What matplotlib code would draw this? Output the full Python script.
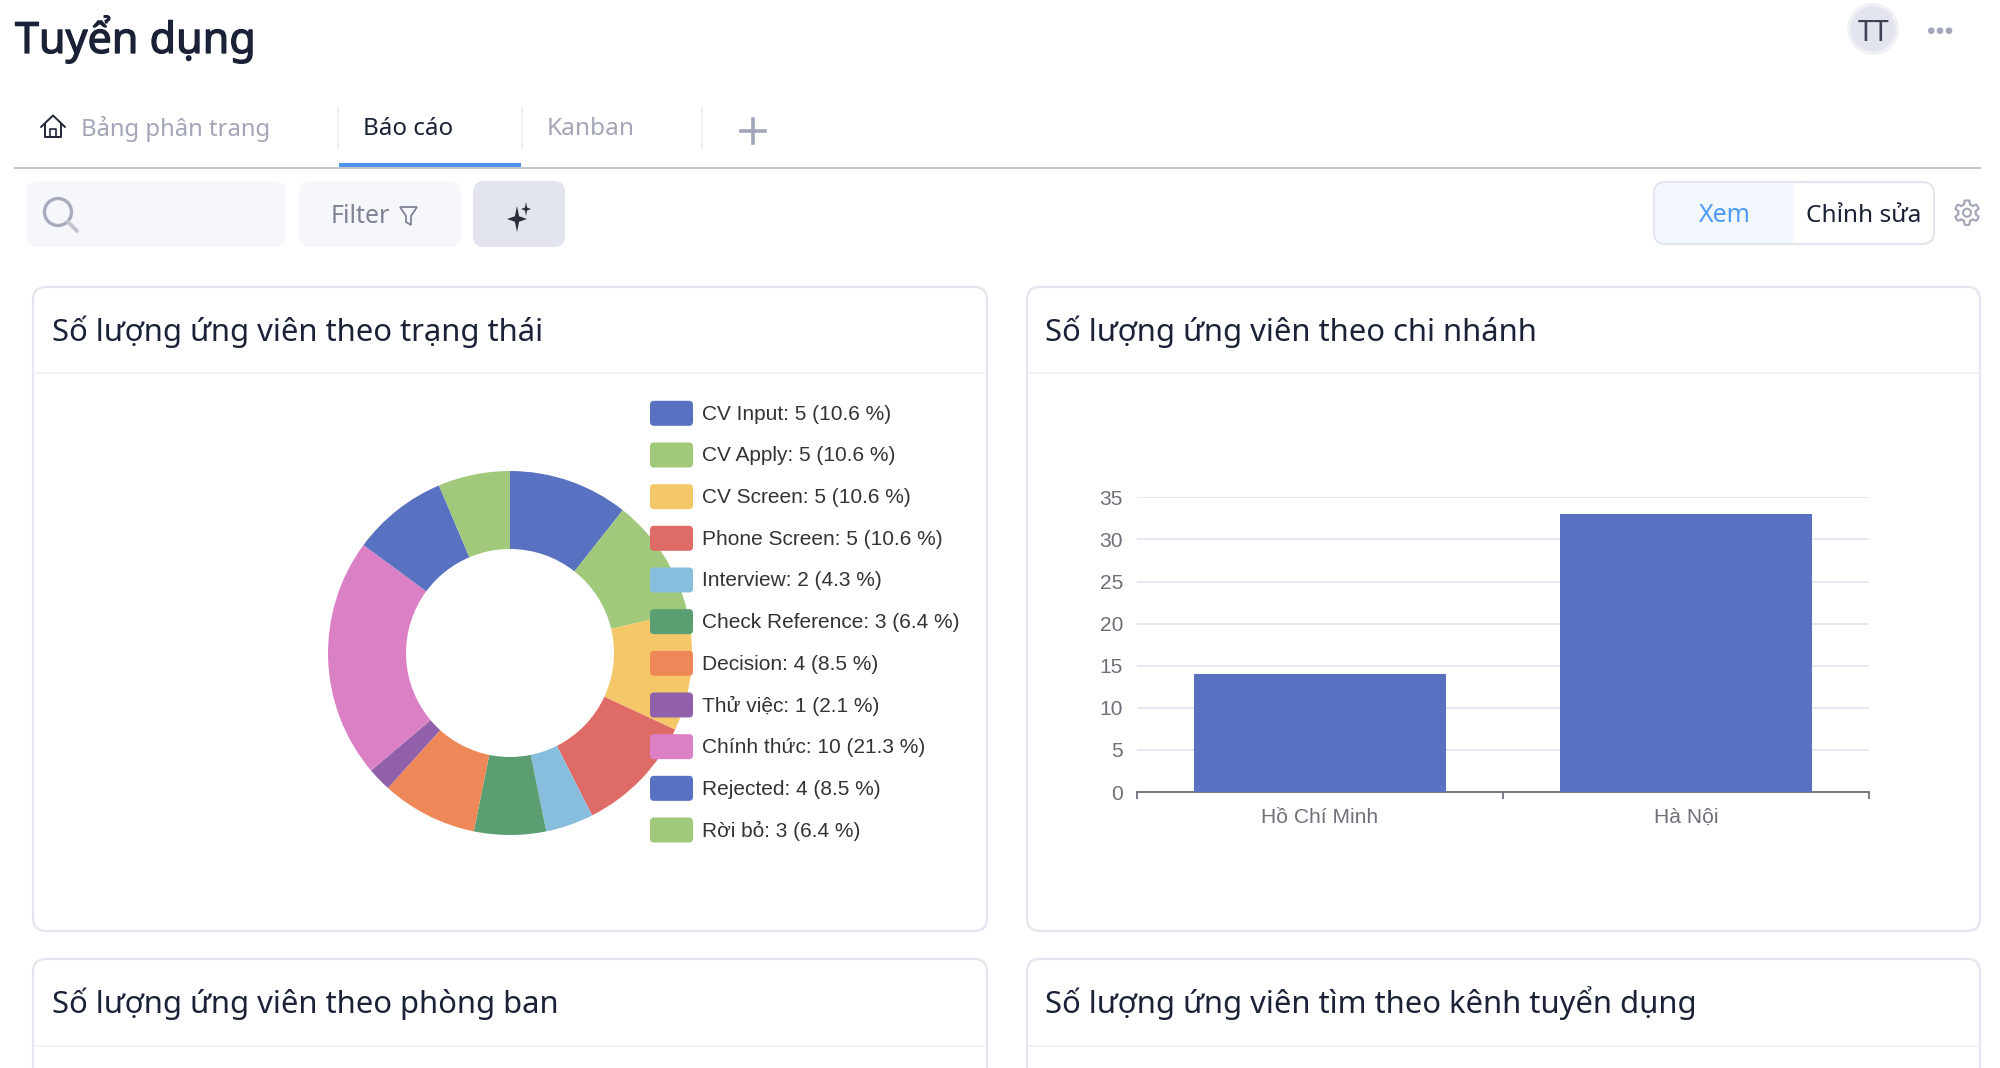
# -*- coding: utf-8 -*-
import numpy as np
import matplotlib
matplotlib.use("Agg")
import matplotlib.pyplot as plt
import matplotlib.patheffects as pe
from matplotlib.patches import Circle, FancyBboxPatch, Polygon, Rectangle

W, H = 2000, 1068

plt.rcParams["font.family"] = ["Noto Sans", "DejaVu Sans"]

# du lieu bieu do
status_names = ["CV Input", "CV Apply", "CV Screen", "Phone Screen", "Interview",
                "Check Reference", "Decision", "Thử việc", "Chính thức",
                "Rejected", "Rời bỏ"]
status_counts = [5, 5, 5, 5, 2, 3, 4, 1, 10, 4, 3]
status_colors = ["#5871c0", "#a0c97c", "#f4c868", "#de6b66", "#87bedd", "#5a9e72",
                 "#ef8859", "#9060ab", "#dc80c6", "#5871c0", "#a0c97c"]

branches = ["Hồ Chí Minh", "Hà Nội"]
branch_counts = [14, 33]
branch_ticks = [0, 5, 10, 15, 20, 25, 30, 35]

card_titles = ["Số lượng ứng viên theo trạng thái", "Số lượng ứng viên theo chi nhánh",
               "Số lượng ứng viên theo phòng ban", "Số lượng ứng viên tìm theo kênh tuyển dụng"]

DARK = "#1b2238"
GREY = "#a3a6b8"
BORDER = "#e3e6ee"
BLUE = "#4d94f0"
CHART_FONT = ["Liberation Sans", "DejaVu Sans"]


def px_axes(fig, x0, y0, x1, y1, **kw):
    """axes dat theo toa do pixel (goc tren ben trai)."""
    return fig.add_axes([x0 / W, 1 - y1 / H, (x1 - x0) / W, (y1 - y0) / H], **kw)


def round_box(ax, x0, y0, x1, y1, r, fc, ec="none", lw=0, z=1):
    ax.add_patch(FancyBboxPatch((x0 + r, y0 + r), x1 - x0 - 2 * r, y1 - y0 - 2 * r,
                                boxstyle=f"round,pad={r},rounding_size={r}",
                                fc=fc, ec=ec, lw=lw, zorder=z))


def star(ax, cx, cy, rx, ry, color):
    pts = []
    for i in range(8):
        a = i * np.pi / 4
        k = 1 if i % 2 == 0 else 0.3
        pts.append((cx + rx * k * np.sin(a), cy - ry * k * np.cos(a)))
    ax.add_patch(Polygon(pts, closed=True, fc=color, ec="none", zorder=3))


fig = plt.figure(figsize=(W / 100, H / 100), dpi=100, facecolor="white")

# nen giao dien
ui = px_axes(fig, 0, 0, W, H, zorder=0)
ui.set_xlim(0, W)
ui.set_ylim(H, 0)
ui.axis("off")

# Noto Sans chi co net thuong, lam dam bang vien chu
heading = ui.text(15, 53, "Tuyển dụng", fontsize=31, color=DARK, va="baseline")
heading.set_path_effects([pe.withStroke(linewidth=0.9, foreground=DARK)])

# avatar va menu
ui.add_patch(Circle((1873, 29), 26, fc="#f0f1f5", ec="none"))
ui.add_patch(Circle((1873, 29), 22.5, fc="#e2e5ed", ec="none", zorder=2))
ui.text(1873.5, 33.5, "TT", fontsize=20.5, color="#3e4253", ha="center", va="center", zorder=3)
for dx in [1931.3, 1940, 1949]:
    ui.add_patch(Circle((dx, 30.7), 3.3, fc=GREY, ec="none"))

# tab
ui.plot([41, 53, 65], [127, 115.5, 127], color="#1f2638", lw=1.4, solid_capstyle="round")
ui.plot([45, 45, 61, 61], [124, 137, 137, 124], color="#1f2638", lw=1.4)
ui.plot([50, 50, 56, 56], [137, 129, 129, 137], color="#1f2638", lw=1.2)
ui.text(81, 129, "Bảng phân trang", fontsize=17.2, color=GREY, va="center")
ui.text(363, 129, "Báo cáo", fontsize=17.4, color=DARK, va="center")
ui.text(547, 129, "Kanban", fontsize=17.6, color=GREY, va="center")
for sx in [338, 522, 702]:
    ui.plot([sx, sx], [108, 148], color="#eceef3", lw=1.2)
ui.plot([741, 765], [130.5, 130.5], color=GREY, lw=2.6)
ui.plot([753, 753], [118.5, 142.5], color=GREY, lw=2.6)
ui.add_patch(Rectangle((14, 167), 1967, 2, fc="#c4c6d0", ec="none"))
ui.add_patch(Rectangle((339, 163), 182, 4, fc=BLUE, ec="none", zorder=2))

# thanh cong cu
round_box(ui, 26, 181, 286, 247, 11, "#f6f7fa")
ui.add_patch(Circle((58, 212), 13.5, fc="none", ec="#a8abbd", lw=2.4, zorder=2))
ui.plot([68, 77], [222, 231], color="#c3c5d2", lw=2.8, solid_capstyle="round", zorder=2)
round_box(ui, 299, 181, 461, 247, 11, "#f6f7fa")
ui.text(331, 216.5, "Filter", fontsize=18, color="#7f8396", va="center", zorder=3)
ui.add_patch(Polygon([(400, 207), (417, 207), (411, 216), (411, 225), (406, 222), (406, 216)],
                     closed=True, fc="none", ec="#7f8396", lw=1.3, zorder=3))
round_box(ui, 473, 181, 565, 247, 11, "#e2e5ed")
star(ui, 517, 219, 10, 13, "#2b2e3a")
star(ui, 526, 209, 5, 7, "#2b2e3a")

# nut Xem / Chinh sua
round_box(ui, 1654, 182, 1934, 244, 12, "white", BORDER, 1.6, z=1)
round_box(ui, 1655, 183, 1800, 243, 11, "#f2f8fe", z=2)
ui.add_patch(Rectangle((1785, 183), 9, 60, fc="#f2f8fe", ec="none", zorder=2))
ui.add_patch(Rectangle((1794, 183), 10, 60, fc="white", ec="none", zorder=2))
ui.text(1725, 216, "Xem", fontsize=18, color="#4d9bf7", ha="center", va="center", zorder=3)
ui.text(1863.5, 216, "Chỉnh sửa", fontsize=17.6, color=DARK, ha="center", va="center", zorder=3)

# banh rang
a = np.linspace(0, 2 * np.pi, 97)
gear_r = 10.5 + 1.8 * np.clip(np.cos(6 * a) * 3, -1, 1)
ui.plot(1967 + gear_r * np.sin(a), 212.7 + gear_r * np.cos(a), color=GREY, lw=1.5)
ui.add_patch(Circle((1967, 212.7), 4, fc="none", ec=GREY, lw=1.5))

# cac the
for (x0, x1, y0, y1, line_y, title_y), title in zip(
        [(33, 987, 287, 931, 373, 331.5), (1027, 1980, 287, 931, 373, 331.5),
         (33, 987, 959, 1120, 1046, 1003.5), (1027, 1980, 959, 1120, 1046, 1003.5)], card_titles):
    round_box(ui, x0, y0, x1, y1, 13, "white", BORDER, 1.6)
    ui.plot([x0 + 1, x1 - 1], [line_y, line_y], color="#eef0f4", lw=1.2, zorder=2)
    ui.text(x0 + 19 - (x0 > 1000), title_y, title, fontsize=22.3, color=DARK, va="center", zorder=3)

# bieu do tron
pie_ax = px_axes(fig, 510 - 182, 653 - 182, 510 + 182, 653 + 182, zorder=1)
pie_ax.pie(status_counts, colors=status_colors, startangle=90, counterclock=False,
           radius=1, wedgeprops={"width": 1 - 104 / 182, "linewidth": 0})
pie_ax.set_xlim(-1, 1)
pie_ax.set_ylim(-1, 1)

# chu giai de len bieu do tron
over = px_axes(fig, 0, 0, W, H, zorder=2)
over.set_xlim(0, W)
over.set_ylim(H, 0)
over.axis("off")
over.patch.set_alpha(0)
total = sum(status_counts)
for i, (name, val, col) in enumerate(zip(status_names, status_counts, status_colors)):
    yc = 413.3 + i * 41.67
    round_box(over, 650, yc - 12.5, 693, yc + 12.5, 4, col)
    over.text(702, yc + 1, f"{name}: {val} ({val / total * 100:.1f} %)", fontsize=15,
              family=CHART_FONT, color="#333333", va="center")

# bieu do cot
bar_ax = px_axes(fig, 1137, 497.3, 1869, 792, zorder=1)
bar_ax.patch.set_alpha(0)
bar_ax.bar(range(len(branches)), branch_counts, width=0.69, color="#5871c0", zorder=3)
bar_ax.set_xlim(-0.5, len(branches) - 0.5)
bar_ax.set_ylim(0, 35)
bar_ax.set_yticks(branch_ticks)
bar_ax.set_xticks(range(len(branches)))
bar_ax.set_xticklabels(branches)
bar_ax.set_xticks([-0.5, 0.5, 1.5], minor=True)
bar_ax.tick_params(axis="x", which="major", length=0, pad=22, labelsize=15.1, labelcolor="#6e7079")
bar_ax.tick_params(axis="x", which="minor", length=5, width=1.3, color="#6e7079")
bar_ax.tick_params(axis="y", length=0, pad=10, labelsize=15.1, labelcolor="#6e7079")
for lab in bar_ax.get_xticklabels() + bar_ax.get_yticklabels():
    lab.set_family(CHART_FONT)
for lab in bar_ax.get_xticklabels():
    lab.set_verticalalignment("baseline")
bar_ax.grid(axis="y", color="#e0e6f1", lw=1.3, zorder=0)
bar_ax.set_axisbelow(True)
for side in ["top", "left", "right"]:
    bar_ax.spines[side].set_visible(False)
bar_ax.spines["bottom"].set_color("#6e7079")
bar_ax.spines["bottom"].set_linewidth(1.3)

fig.savefig("out.png", dpi=100)
plt.close(fig)
